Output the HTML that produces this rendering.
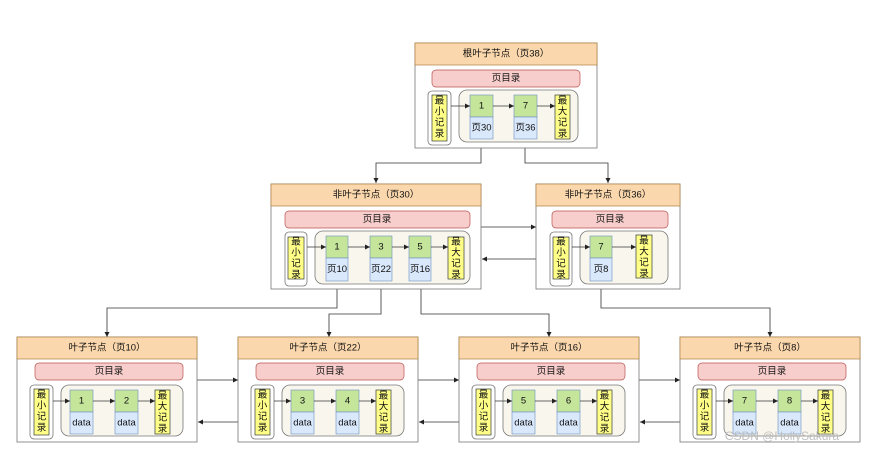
<!DOCTYPE html>
<html><head><meta charset="utf-8"><style>
html,body{margin:0;padding:0;background:#fff;width:873px;height:455px;overflow:hidden}
text{font-family:"Liberation Sans","Noto Sans CJK SC",sans-serif;font-size:9.5px;fill:#111;text-anchor:middle;dominant-baseline:central}
.h{fill:#fad7ac;stroke:#b08040;stroke-width:.7}
.b{fill:#fff;stroke:#777;stroke-width:.8}
.p{fill:#f8cecc;stroke:#b85450;stroke-width:.7}
.o{fill:#fff;stroke:#777;stroke-width:.8}
.y{fill:#ffff88;stroke:#36393d;stroke-width:.7}
.g{fill:#f9f7ed;stroke:#777;stroke-width:.8}
.k{fill:#c5e59b;stroke:#6c8ebf;stroke-width:.6}
.d{fill:#dae8fc;stroke:#6c8ebf;stroke-width:.6}
.l{stroke:#333;stroke-width:.8;fill:none}
</style></head><body>
<svg width="873" height="455" viewBox="0 0 873 455" xmlns="http://www.w3.org/2000/svg">
<defs><marker id="a" markerWidth="6" markerHeight="6" refX="5" refY="3" orient="auto" markerUnits="userSpaceOnUse"><path d="M0,0.5 L5,3 L0,5.5 Z" fill="#222"/></marker></defs>

<!-- connectors -->
<g class="l" marker-end="url(#a)">
<path d="M481,139 V163 H376 V183"/>
<path d="M525,139 V163 H608 V183"/>
<path d="M481,227 H536"/>
<path d="M536,259 H482"/>
<path d="M337,281 V308 H107 V337"/>
<path d="M381,281 V314 H329 V337"/>
<path d="M421,281 V314 H549 V337"/>
<path d="M601,281 V308 H770 V337"/>
<path d="M197,380 H238"/><path d="M238,422 H198"/>
<path d="M418,380 H459"/><path d="M459,422 H419"/>
<path d="M639,380 H680"/><path d="M680,422 H640"/>
</g>

<!-- root -->
<g>
<rect class="b" x="415" y="43" width="182" height="105"/>
<rect class="h" x="415" y="43" width="182" height="22"/>
<text x="506" y="54">根叶子节点（页38）</text>
<rect class="p" x="432" y="70" width="148" height="17" rx="4"/><text x="506" y="78.5">页目录</text>
<rect class="o" x="428" y="91" width="23" height="54" rx="4"/>
<rect class="y" x="432" y="95" width="15" height="46"/>
<text x="439.5" y="101">最</text><text x="439.5" y="112">小</text><text x="439.5" y="123">记</text><text x="439.5" y="134">录</text>
<rect class="g" x="459" y="90" width="119" height="52" rx="8"/>
<rect class="k" x="470" y="95" width="23" height="22"/><text x="481.5" y="106">1</text>
<rect class="d" x="470" y="117" width="23" height="22"/><text x="481.5" y="128">页30</text>
<rect class="k" x="514" y="95" width="23" height="22"/><text x="525.5" y="106">7</text>
<rect class="d" x="514" y="117" width="23" height="22"/><text x="525.5" y="128">页36</text>
<rect class="y" x="555" y="95" width="15" height="44"/>
<text x="562.5" y="101">最</text><text x="562.5" y="112">大</text><text x="562.5" y="123">记</text><text x="562.5" y="134">录</text>
<g class="l" marker-end="url(#a)"><path d="M451,106 H470"/><path d="M493,106 H514"/><path d="M537,106 H555"/></g>
</g>

<!-- non-leaf 30 -->
<g>
<rect class="b" x="271" y="184" width="210" height="105"/>
<rect class="h" x="271" y="184" width="210" height="22"/>
<text x="376" y="195">非叶子节点（页30）</text>
<rect class="p" x="285" y="211" width="185" height="17" rx="4"/><text x="377" y="219.5">页目录</text>
<rect class="o" x="285" y="232" width="22" height="54" rx="4"/>
<rect class="y" x="288" y="237" width="16" height="42"/>
<text x="296" y="242">最</text><text x="296" y="253">小</text><text x="296" y="264">记</text><text x="296" y="275">录</text>
<rect class="g" x="315" y="231" width="155" height="53" rx="8"/>
<rect class="k" x="326" y="236" width="22" height="22"/><text x="337" y="247">1</text>
<rect class="d" x="326" y="258" width="22" height="23"/><text x="337" y="269.5">页10</text>
<rect class="k" x="370" y="236" width="22" height="22"/><text x="381" y="247">3</text>
<rect class="d" x="370" y="258" width="22" height="23"/><text x="381" y="269.5">页22</text>
<rect class="k" x="409" y="236" width="22" height="22"/><text x="420" y="247">5</text>
<rect class="d" x="409" y="258" width="22" height="23"/><text x="420" y="269.5">页16</text>
<rect class="y" x="448" y="237" width="16" height="42"/>
<text x="456" y="242">最</text><text x="456" y="253">大</text><text x="456" y="264">记</text><text x="456" y="275">录</text>
<g class="l" marker-end="url(#a)"><path d="M307,247 H326"/><path d="M348,247 H370"/><path d="M392,247 H409"/><path d="M431,247 H448"/></g>
</g>

<!-- non-leaf 36 -->
<g>
<rect class="b" x="536" y="184" width="144" height="105"/>
<rect class="h" x="536" y="184" width="144" height="22"/>
<text x="608" y="195">非叶子节点（页36）</text>
<rect class="p" x="552" y="211" width="116" height="17" rx="4"/><text x="610" y="219.5">页目录</text>
<rect class="o" x="550" y="232" width="22" height="54" rx="4"/>
<rect class="y" x="553" y="237" width="16" height="42"/>
<text x="561" y="242">最</text><text x="561" y="253">小</text><text x="561" y="264">记</text><text x="561" y="275">录</text>
<rect class="g" x="580" y="231" width="88" height="53" rx="8"/>
<rect class="k" x="590" y="236" width="22" height="22"/><text x="601" y="247">7</text>
<rect class="d" x="590" y="258" width="22" height="23"/><text x="601" y="269.5">页8</text>
<rect class="y" x="636" y="235" width="16" height="43"/>
<text x="644" y="241">最</text><text x="644" y="252">大</text><text x="644" y="263">记</text><text x="644" y="274">录</text>
<g class="l" marker-end="url(#a)"><path d="M572,247 H590"/><path d="M612,247 H636"/></g>
</g>

<!-- leaves -->
<g transform="translate(17,337)">
<rect class="b" x="0" y="0" width="180" height="105"/><rect class="h" x="0" y="0" width="180" height="22"/>
<text x="90" y="11">叶子节点（页10）</text>
<rect class="p" x="18" y="26" width="148" height="17" rx="4"/><text x="92" y="34.5">页目录</text>
<rect class="o" x="13" y="48" width="23" height="54" rx="4"/><rect class="y" x="17" y="52" width="15" height="46"/>
<text x="24.5" y="58">最</text><text x="24.5" y="69">小</text><text x="24.5" y="80">记</text><text x="24.5" y="91">录</text>
<rect class="g" x="44" y="48" width="122" height="51" rx="8"/>
<rect class="k" x="53" y="53" width="23" height="22"/><text x="64.5" y="64">1</text>
<rect class="d" x="53" y="75" width="23" height="22"/><text x="64.5" y="86">data</text>
<rect class="k" x="98" y="53" width="23" height="22"/><text x="109.5" y="64">2</text>
<rect class="d" x="98" y="75" width="23" height="22"/><text x="109.5" y="86">data</text>
<rect class="y" x="138" y="53" width="15" height="44"/>
<text x="145.5" y="59">最</text><text x="145.5" y="70">大</text><text x="145.5" y="81">记</text><text x="145.5" y="92">录</text>
<g class="l" marker-end="url(#a)"><path d="M36,64 H53"/><path d="M76,64 H98"/><path d="M121,64 H138"/></g>
</g>
<g transform="translate(238,337)">
<rect class="b" x="0" y="0" width="180" height="105"/><rect class="h" x="0" y="0" width="180" height="22"/>
<text x="90" y="11">叶子节点（页22）</text>
<rect class="p" x="18" y="26" width="148" height="17" rx="4"/><text x="92" y="34.5">页目录</text>
<rect class="o" x="13" y="48" width="23" height="54" rx="4"/><rect class="y" x="17" y="52" width="15" height="46"/>
<text x="24.5" y="58">最</text><text x="24.5" y="69">小</text><text x="24.5" y="80">记</text><text x="24.5" y="91">录</text>
<rect class="g" x="44" y="48" width="122" height="51" rx="8"/>
<rect class="k" x="53" y="53" width="23" height="22"/><text x="64.5" y="64">3</text>
<rect class="d" x="53" y="75" width="23" height="22"/><text x="64.5" y="86">data</text>
<rect class="k" x="98" y="53" width="23" height="22"/><text x="109.5" y="64">4</text>
<rect class="d" x="98" y="75" width="23" height="22"/><text x="109.5" y="86">data</text>
<rect class="y" x="138" y="53" width="15" height="44"/>
<text x="145.5" y="59">最</text><text x="145.5" y="70">大</text><text x="145.5" y="81">记</text><text x="145.5" y="92">录</text>
<g class="l" marker-end="url(#a)"><path d="M36,64 H53"/><path d="M76,64 H98"/><path d="M121,64 H138"/></g>
</g>
<g transform="translate(459,337)">
<rect class="b" x="0" y="0" width="180" height="105"/><rect class="h" x="0" y="0" width="180" height="22"/>
<text x="90" y="11">叶子节点（页16）</text>
<rect class="p" x="18" y="26" width="148" height="17" rx="4"/><text x="92" y="34.5">页目录</text>
<rect class="o" x="13" y="48" width="23" height="54" rx="4"/><rect class="y" x="17" y="52" width="15" height="46"/>
<text x="24.5" y="58">最</text><text x="24.5" y="69">小</text><text x="24.5" y="80">记</text><text x="24.5" y="91">录</text>
<rect class="g" x="44" y="48" width="122" height="51" rx="8"/>
<rect class="k" x="53" y="53" width="23" height="22"/><text x="64.5" y="64">5</text>
<rect class="d" x="53" y="75" width="23" height="22"/><text x="64.5" y="86">data</text>
<rect class="k" x="98" y="53" width="23" height="22"/><text x="109.5" y="64">6</text>
<rect class="d" x="98" y="75" width="23" height="22"/><text x="109.5" y="86">data</text>
<rect class="y" x="138" y="53" width="15" height="44"/>
<text x="145.5" y="59">最</text><text x="145.5" y="70">大</text><text x="145.5" y="81">记</text><text x="145.5" y="92">录</text>
<g class="l" marker-end="url(#a)"><path d="M36,64 H53"/><path d="M76,64 H98"/><path d="M121,64 H138"/></g>
</g>
<g transform="translate(680,337)">
<rect class="b" x="0" y="0" width="180" height="105"/><rect class="h" x="0" y="0" width="180" height="22"/>
<text x="90" y="11">叶子节点（页8）</text>
<rect class="p" x="18" y="26" width="148" height="17" rx="4"/><text x="92" y="34.5">页目录</text>
<rect class="o" x="13" y="48" width="23" height="54" rx="4"/><rect class="y" x="17" y="52" width="15" height="46"/>
<text x="24.5" y="58">最</text><text x="24.5" y="69">小</text><text x="24.5" y="80">记</text><text x="24.5" y="91">录</text>
<rect class="g" x="44" y="48" width="122" height="51" rx="8"/>
<rect class="k" x="53" y="53" width="23" height="22"/><text x="64.5" y="64">7</text>
<rect class="d" x="53" y="75" width="23" height="22"/><text x="64.5" y="86">data</text>
<rect class="k" x="98" y="53" width="23" height="22"/><text x="109.5" y="64">8</text>
<rect class="d" x="98" y="75" width="23" height="22"/><text x="109.5" y="86">data</text>
<rect class="y" x="138" y="53" width="15" height="44"/>
<text x="145.5" y="59">最</text><text x="145.5" y="70">大</text><text x="145.5" y="81">记</text><text x="145.5" y="92">录</text>
<g class="l" marker-end="url(#a)"><path d="M36,64 H53"/><path d="M76,64 H98"/><path d="M121,64 H138"/></g>
</g>
<text x="782" y="436" style="font-size:12px;fill:#bbb;opacity:.9">CSDN @HollySakura</text>
</svg>
</body></html>
